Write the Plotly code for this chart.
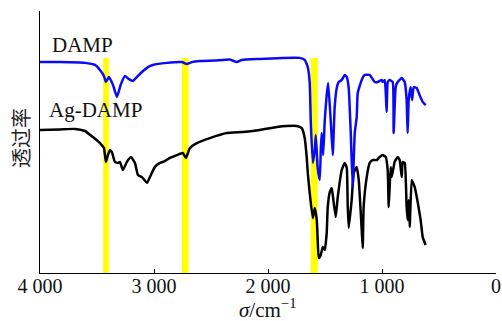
import plotly.graph_objects as go

# Wavenumbers (cm^-1) and transmittance (arbitrary %)
damp_wn = [4000, 3825, 3606, 3518, 3474, 3439, 3422, 3395, 3360, 3325, 3290, 3255, 3220, 3185,
           3141, 3106, 3053, 3010, 2887, 2756, 2712, 2668, 2598, 2466, 2335, 2274, 2230, 2072,
           1870, 1721, 1678, 1651, 1634, 1625, 1607, 1590, 1581, 1564, 1546, 1537, 1529, 1516,
           1502, 1485, 1472, 1450, 1432, 1415, 1397, 1380, 1353, 1327, 1309, 1292, 1274, 1257,
           1239, 1222, 1213, 1178, 1152, 1108, 1064, 1038, 1003, 994, 976, 959, 950, 933, 906,
           898, 880, 863, 827, 801, 784, 775, 766, 749, 736, 722, 696, 670, 643, 617]
damp_t = [80.5, 80.5, 80.2, 79.4, 77.5, 75.2, 72.9, 74.8, 71.8, 67.2, 72.1, 75.2, 74.0, 73.3,
          75.2, 76.7, 78.6, 79.4, 80.2, 80.5, 79.8, 80.5, 80.9, 81.1, 81.5, 80.5, 81.3, 81.7,
          82.1, 82.1, 81.3, 78.6, 72.5, 58.0, 42.0, 46.9, 52.7, 40.0, 35.5, 47.0, 53.4, 45.0,
          58.4, 68.0, 72.5, 58.4, 45.0, 63.4, 70.6, 72.9, 73.7, 75.6, 74.8, 70.6, 53.4, 33.0,
          53.4, 59.5, 68.7, 73.7, 75.6, 75.6, 72.9, 72.9, 73.7, 72.9, 73.7, 61.5, 72.9, 73.7, 72.9,
          53.4, 71.0, 72.9, 74.4, 72.9, 66.0, 53.4, 66.0, 71.0, 66.0, 71.0, 70.6, 67.9, 65.3, 64.1]

ag_wn = [4000, 3825, 3693, 3606, 3536, 3474, 3439, 3422, 3404, 3387, 3369, 3343, 3316, 3299,
         3273, 3238, 3202, 3167, 3141, 3106, 3062, 3036, 2992, 2948, 2905, 2861, 2800, 2747,
         2720, 2685, 2624, 2510, 2361, 2221, 2072, 1923, 1835, 1748, 1704, 1678, 1660, 1651,
         1634, 1607, 1590, 1572, 1564, 1555, 1537, 1520, 1502, 1485, 1476, 1458, 1441, 1432,
         1406, 1388, 1353, 1327, 1309, 1301, 1292, 1266, 1248, 1222, 1204, 1178, 1169, 1161,
         1134, 1108, 1082, 1047, 1020, 994, 968, 950, 941, 924, 915, 898, 889, 863, 845, 827,
         819, 801, 784, 775, 766, 757, 740, 731, 713, 687, 661, 643, 617]
ag_t = [54.6, 54.8, 55.0, 54.2, 51.9, 49.6, 47.7, 42.4, 45.0, 46.9, 46.1, 42.4, 42.0, 42.4,
        39.3, 42.4, 44.3, 42.0, 37.4, 36.6, 34.4, 36.6, 40.5, 42.0, 42.7, 43.9, 45.0, 45.8,
        43.9, 47.7, 49.6, 51.5, 53.4, 53.8, 54.6, 55.7, 56.1, 56.1, 55.3, 51.5, 43.9, 38.2,
        30.5, 21.0, 24.8, 20.2, 12.6, 5.7, 6.9, 9.9, 8.8, 15.3, 25.2, 30.9, 32.4, 29.8,
        21.4, 29.0, 39.3, 42.0, 40.1, 26.0, 17.2, 27.9, 38.2, 40.5, 35.5, 16.4, 9.5, 25.2,
        36.6, 42.0, 43.1, 43.1, 44.3, 45.0, 44.3, 39.3, 25.2, 40.5, 36.6, 40.5, 42.4, 44.3, 43.1, 36.6,
        42.4, 42.0, 25.2, 20.2, 27.9, 17.6, 35.5, 34.7, 32.8, 27.1, 20.2, 13.7, 10.7]

band_lo = [3446, 2756, 1625]
band_hi = [3396, 2697, 1564]
band_top = 82.1

tick_vals = [4000, 3000, 2000, 1000, 0]
tick_text = ["4 000", "3 000", "2 000", "1 000", "0"]

serif = "Liberation Serif, Times New Roman, serif"

fig = go.Figure()
fig.add_trace(go.Scatter(x=ag_wn, y=ag_t, mode="lines", name="Ag-DAMP",
                         line=dict(color="#000000", width=2.5, shape="spline", smoothing=0.4)))
fig.add_trace(go.Scatter(x=damp_wn, y=damp_t, mode="lines", name="DAMP",
                         line=dict(color="#0a0af5", width=2.5, shape="spline", smoothing=0.4)))

for lo, hi in zip(band_lo, band_hi):
    fig.add_shape(type="rect", xref="x", yref="y", x0=lo, x1=hi, y0=0, y1=band_top,
                  fillcolor="#ffff00", line=dict(width=0), layer="below")

fig.add_annotation(text="DAMP", xref="paper", yref="paper", x=0.094, y=0.872,
                   xanchor="center", yanchor="middle",
                   showarrow=False, font=dict(family=serif, size=21, color="#111"))
fig.add_annotation(text="Ag-DAMP", xref="paper", yref="paper", x=0.122, y=0.622,
                   xanchor="center", yanchor="middle",
                   showarrow=False, font=dict(family=serif, size=21, color="#111"))
fig.add_annotation(text="透过率", xref="paper", yref="paper", x=-0.044, y=0.515,
                   xanchor="center", yanchor="middle",
                   textangle=-90, showarrow=False,
                   font=dict(family="Noto Sans CJK SC", size=20, color="#222"))
fig.add_annotation(text="<i>σ</i>/cm<sup>−1</sup>", xref="paper", yref="paper", x=0.5, y=-0.134,
                   xanchor="center", yanchor="middle",
                   showarrow=False, font=dict(family=serif, size=21, color="#111"))

fig.update_layout(
    width=502, height=321,
    margin=dict(l=40, r=6, t=11, b=48),
    paper_bgcolor="white", plot_bgcolor="white",
    showlegend=False,
    xaxis=dict(range=[4000, 0], tickvals=tick_vals, ticktext=tick_text,
               ticks="inside", ticklen=4, tickwidth=1, tickcolor="black",
               ticklabelstandoff=-5, automargin=False,
               showline=True, linecolor="black", linewidth=1.2, showgrid=False, zeroline=False,
               tickfont=dict(family=serif, size=20, color="#111")),
    yaxis=dict(range=[0, 100], showticklabels=False, ticks="", showline=True, automargin=False,
               linecolor="black", linewidth=1.2, showgrid=False, zeroline=False),
)

fig.write_html("out.html", config={"displayModeBar": False},
               post_script="document.body.style.margin='0px';")
